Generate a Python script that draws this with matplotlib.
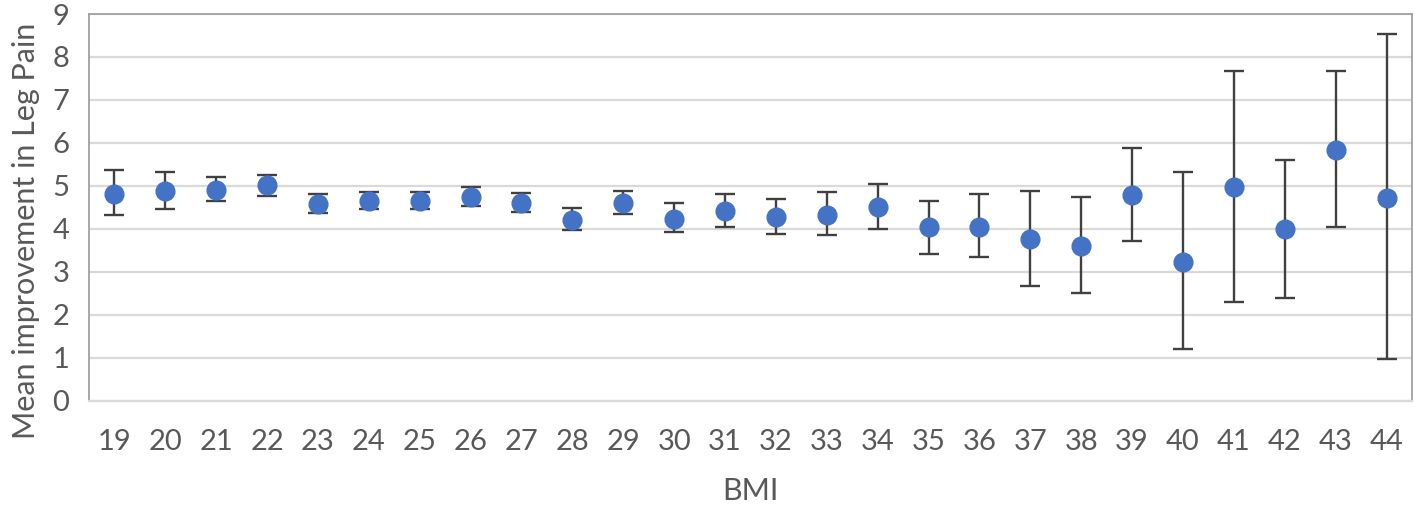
import numpy as np
from matplotlib import pyplot as plt

# BMI categories and mean improvement
bmi = [19, 20, 21, 22, 23, 24, 25, 26, 27, 28, 29, 30, 31,
       32, 33, 34, 35, 36, 37, 38, 39, 40, 41, 42, 43, 44]
mean_improvement = [4.81, 4.88, 4.90, 5.02, 4.59, 4.64, 4.64, 4.75, 4.60, 4.22, 4.60, 4.24, 4.42,
                    4.27, 4.33, 4.50, 4.04, 4.04, 3.76, 3.61, 4.79, 3.24, 4.98, 3.99, 5.84, 4.73]
upper = [5.37, 5.32, 5.21, 5.26, 4.81, 4.86, 4.86, 4.98, 4.84, 4.49, 4.89, 4.61, 4.81,
         4.69, 4.86, 5.04, 4.66, 4.81, 4.88, 4.74, 5.89, 5.32, 7.67, 5.60, 7.67, 8.53]
lower = [4.32, 4.46, 4.64, 4.77, 4.38, 4.46, 4.46, 4.54, 4.40, 3.97, 4.34, 3.94, 4.05,
         3.88, 3.85, 4.00, 3.42, 3.35, 2.68, 2.50, 3.72, 1.22, 2.31, 2.40, 4.05, 0.97]

plt.rcParams['font.family'] = ['Lato', 'DejaVu Sans']

fig = plt.figure(figsize=(14.14, 5.11), dpi=100)
ax = fig.add_axes([0.0629, 0.2153, 0.9357, 0.7573])

x = np.arange(len(bmi))
mean = np.array(mean_improvement)
yerr = [mean - np.array(lower), np.array(upper) - mean]

ax.errorbar(x, mean, yerr=yerr, fmt='o', color='#4472C4', ms=13.5,
            ecolor='#404040', elinewidth=1.7, capsize=7, capthick=1.7, zorder=3)

ax.set_xlim(-0.5, len(bmi) - 0.5)
ax.set_ylim(0, 9)
ax.set_yticks(range(0, 10))
ax.set_xticks(x)
ax.set_xticklabels([str(b) for b in bmi])

ax.grid(axis='y', color='#D9D9D9', linewidth=1.6, zorder=0)
ax.set_axisbelow(True)
for side in ['top', 'left', 'right']:
    ax.spines[side].set_color('#A0A0A0')
    ax.spines[side].set_linewidth(1.3)
ax.spines['bottom'].set_color('#D9D9D9')
ax.spines['bottom'].set_linewidth(1.6)

ax.tick_params(axis='both', length=0, labelsize=21, colors='#595959')
ax.tick_params(axis='x', pad=20)
ax.tick_params(axis='y', pad=14)

ax.set_xlabel('BMI', fontsize=22, color='#595959', labelpad=16)
# the label sits a little below the middle of the axis in the original
ax.set_ylabel('Mean improvement in Leg Pain', fontsize=22, color='#595959', labelpad=9, y=0.44)

plt.savefig('out.png', dpi=100)
